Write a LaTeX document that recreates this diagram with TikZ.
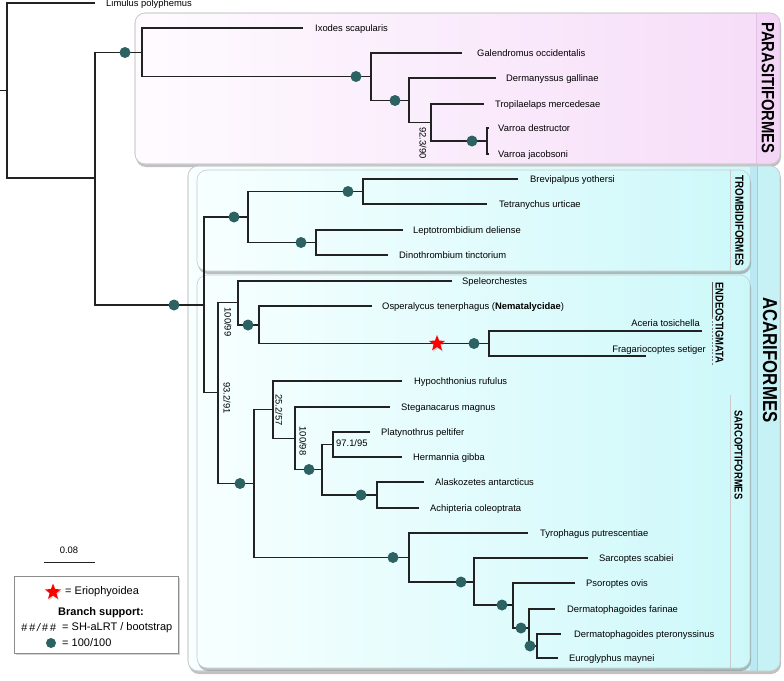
\documentclass[tikz,border=0pt]{standalone}
\usepackage{fontspec}
\setmainfont{Liberation Sans}
\usepackage{graphicx}
\usetikzlibrary{shapes.geometric,shadows}
\definecolor{dotc}{HTML}{2D6262}
\definecolor{brc}{HTML}{222222}
\definecolor{pinkR}{HTML}{F6DCF8}
\definecolor{pinkL}{HTML}{FEFBFF}
\definecolor{pinkS}{HTML}{F3D5F5}
\definecolor{pinkLn}{HTML}{E4C2E6}
\definecolor{cyanR}{HTML}{CDF8FA}
\definecolor{cyanL}{HTML}{F7FFFF}
\definecolor{cyanS}{HTML}{C6F1F5}
\definecolor{cyanB}{HTML}{BCE8F3}
\definecolor{blueLn}{HTML}{9CCFEA}
\definecolor{boxln}{HTML}{CBCBCB}
\newcommand\taxfont{\fontsize{9.4}{11}\selectfont}
\newcommand\suppfont{\fontsize{9.4}{11}\selectfont}
\newcommand\legfont{\fontsize{11}{13}\selectfont}
\begin{document}
\begin{tikzpicture}[x=1pt,y=-1pt,
  br/.style={draw=brc,line width=1.1pt},
  dot/.style={circle,fill=dotc,inner sep=0pt,minimum size=11pt},
  taxon/.style={anchor=base west,inner sep=0pt,font=\taxfont,yshift=-3.3pt},
  taxonr/.style={anchor=base east,inner sep=0pt,font=\taxfont,yshift=-3.3pt},
  supp/.style={rotate=-90,inner sep=0pt,font=\suppfont},
  grp/.style={rotate=-90,inner sep=0pt},
  bigbox/.style={rounded corners=10pt,draw=boxln,line width=0.6pt},
  shad/.style={drop shadow={shadow xshift=1pt,shadow yshift=-3pt,opacity=0.35,fill=black!70}}
]
\useasboundingbox (0,0) rectangle (784,680);

% ---------- Parasitiformes box ----------
\path[bigbox,shad,left color=pinkL,right color=pinkR] (135,13) rectangle (780,164);
\begin{scope}
  \clip[rounded corners=10pt] (135,13) rectangle (780,164);
  \fill[pinkS] (756,13) rectangle (780,164);
  \draw[pinkLn,line width=0.8pt] (756,13) -- (756,164);
\end{scope}
\path[bigbox] (135,13) rectangle (780,164);
\node[grp] (lpara) at (768,88) {\fontsize{14.8}{16}\selectfont\scalebox{1}[1.2]{\bfseries PARASITIFORMES}};

% ---------- Acariformes box ----------
\path[bigbox,shad,left color=cyanL,right color=cyanR] (188,166) rectangle (780,671);
\begin{scope}
  \clip[rounded corners=10pt] (188,166) rectangle (780,671);
  \fill[cyanB] (750,166) rectangle (757,671);
  \fill[cyanS] (757,166) rectangle (780,671);
  \draw[blueLn,line width=0.9pt] (757,166) -- (757,671);
\end{scope}
\path[bigbox] (188,166) rectangle (780,671);
\node[grp] (lacari) at (770,360) {\fontsize{16.8}{18}\selectfont\scalebox{1}[1.2]{\bfseries ACARIFORMES}};

% Trombidiformes inner box
\path[bigbox,shad,left color=cyanL,right color=cyanR] (197,170) rectangle (750,271);
\draw[boxln,line width=0.6pt] (730,170) -- (730,271);
\node[grp] (ltrom) at (739.5,221) {\fontsize{9.8}{11}\selectfont\scalebox{1}[1.2]{\bfseries TROMBIDIFORMES}};

% Sarcoptiformes / Endeostigmata inner box
\path[bigbox,shad,left color=cyanL,right color=cyanR] (197,275) rectangle (750,668);
\draw[boxln,line width=0.6pt] (730,395) -- (730,668);
\node[grp] (lsarc) at (738.5,455) {\fontsize{9.4}{11}\selectfont\scalebox{1}[1.2]{\bfseries SARCOPTIFORMES}};
\coordinate (eA) at (712,282);
\coordinate (eB) at (712,317);
\coordinate (eC) at (712,365);
\draw[black!65,line width=1pt] (eA) -- (eB);
\draw[black!50,line width=1pt,dashed,dash pattern=on 2pt off 1.5pt] (eB) -- (eC);
\node[grp] (lendeo) at (719.5,323) {\fontsize{9.4}{11}\selectfont\scalebox{1}[1.2]{\bfseries ENDEOSTIGMATA}};

% ---------- tree coordinates ----------
\coordinate (rs) at (0,90.5);
\coordinate (r) at (7,90.5);
\coordinate (lim) at (95,3);
\coordinate (n1) at (95,178);
\coordinate (para) at (142,52.5);
\coordinate (ixo) at (303,28);
\coordinate (p2) at (371,76.5);
\coordinate (gal) at (462,53);
\coordinate (p3) at (409,100.5);
\coordinate (der) at (496,78);
\coordinate (p4) at (431,122.5);
\coordinate (tro) at (484,104);
\coordinate (p5) at (487,141);
\coordinate (vd) at (489,128);
\coordinate (vj) at (489,154);
\coordinate (acari) at (204,305);
\coordinate (trom) at (248,217);
\coordinate (t1) at (363,191.5);
\coordinate (bre) at (518,179);
\coordinate (tet) at (487,204);
\coordinate (t2) at (316,242.5);
\coordinate (lep) at (403,230);
\coordinate (din) at (388,255);
\coordinate (sa) at (218,392.5);
\coordinate (endeo) at (238,302.5);
\coordinate (spe) at (452,281);
\coordinate (e2) at (259,325);
\coordinate (osp) at (372,306);
\coordinate (eri) at (489,343.5);
\coordinate (ace) at (702,331);
\coordinate (fra) at (646,356);
\coordinate (sarco) at (254,483.5);
\coordinate (s1) at (273,409.5);
\coordinate (hyp) at (402,381);
\coordinate (s2) at (295,438.5);
\coordinate (ste) at (390,407);
\coordinate (s3) at (322,469.5);
\coordinate (s4) at (333,444.5);
\coordinate (pla) at (370,432);
\coordinate (her) at (402,457);
\coordinate (s5) at (377,495);
\coordinate (ala) at (424,482);
\coordinate (ach) at (419,508);
\coordinate (astig) at (409,557.5);
\coordinate (tyr) at (528,533);
\coordinate (a2) at (474,582);
\coordinate (sar) at (588,558);
\coordinate (a3) at (513,605);
\coordinate (pso) at (575,583);
\coordinate (a4) at (529,628);
\coordinate (dfa) at (555,609);
\coordinate (a5) at (537,646);
\coordinate (dpt) at (561,634);
\coordinate (eur) at (558,658);

% ---------- branches ----------
\draw[br] (rs) -- (r);
\draw[br] (r) |- (lim);
\draw[br] (r) |- (n1);
\draw[br] (n1) |- (para);
\draw[br] (n1) |- (acari);
\draw[br] (para) |- (ixo);
\draw[br] (para) |- (p2);
\draw[br] (p2) |- (gal);
\draw[br] (p2) |- (p3);
\draw[br] (p3) |- (der);
\draw[br] (p3) |- (p4);
\draw[br] (p4) |- (tro);
\draw[br] (p4) |- (p5);
\draw[br] (p5) |- (vd);
\draw[br] (p5) |- (vj);
\draw[br] (acari) |- (trom);
\draw[br] (acari) |- (sa);
\draw[br] (trom) |- (t1);
\draw[br] (trom) |- (t2);
\draw[br] (t1) |- (bre);
\draw[br] (t1) |- (tet);
\draw[br] (t2) |- (lep);
\draw[br] (t2) |- (din);
\draw[br] (sa) |- (endeo);
\draw[br] (sa) |- (sarco);
\draw[br] (endeo) |- (spe);
\draw[br] (endeo) |- (e2);
\draw[br] (e2) |- (osp);
\draw[br] (e2) |- (eri);
\draw[br] (eri) |- (ace);
\draw[br] (eri) |- (fra);
\draw[br] (sarco) |- (s1);
\draw[br] (sarco) |- (astig);
\draw[br] (s1) |- (hyp);
\draw[br] (s1) |- (s2);
\draw[br] (s2) |- (ste);
\draw[br] (s2) |- (s3);
\draw[br] (s3) |- (s4);
\draw[br] (s3) |- (s5);
\draw[br] (s4) |- (pla);
\draw[br] (s4) |- (her);
\draw[br] (s5) |- (ala);
\draw[br] (s5) |- (ach);
\draw[br] (astig) |- (tyr);
\draw[br] (astig) |- (a2);
\draw[br] (a2) |- (sar);
\draw[br] (a2) |- (a3);
\draw[br] (a3) |- (pso);
\draw[br] (a3) |- (a4);
\draw[br] (a4) |- (dfa);
\draw[br] (a4) |- (a5);
\draw[br] (a5) |- (dpt);
\draw[br] (a5) |- (eur);

% ---------- support dots ----------
\node[dot] (d1) at (125,52.5) {};
\node[dot] (d2) at (356,76.5) {};
\node[dot] (d3) at (395,100.5) {};
\node[dot] (d4) at (472,141) {};
\node[dot] (d5) at (174,305) {};
\node[dot] (d6) at (234,217) {};
\node[dot] (d7) at (348,191.5) {};
\node[dot] (d8) at (301,242.5) {};
\node[dot] (d9) at (248,325) {};
\node[dot] (d10) at (474,343.5) {};
\node[dot] (d11) at (240,483.5) {};
\node[dot] (d12) at (309,469.5) {};
\node[dot] (d13) at (361,495) {};
\node[dot] (d14) at (393,557.5) {};
\node[dot] (d15) at (461,582) {};
\node[dot] (d16) at (502,605) {};
\node[dot] (d17) at (521,628) {};
\node[dot] (d18) at (530,646) {};
\node[star,star points=5,star point ratio=2.4,fill=red,inner sep=0pt,minimum size=17pt,
      drop shadow={shadow xshift=1pt,shadow yshift=-1.5pt,opacity=0.3}] (star1) at (437,343.5) {};

% ---------- support values ----------
\node[supp] (v1) at (423,143) {92.3/90};
\node[supp] (v2) at (228,322) {100/99};
\node[supp] (v3) at (227,398) {93.2/91};
\node[supp] (v4) at (279,410) {25.2/57};
\node[supp] (v5) at (303,441) {100/98};
\node[anchor=west,inner sep=0pt,font=\suppfont] (v6) at (336,443) {97.1/95};

% ---------- taxon labels ----------
\node[taxon] (tlim) at (106,3) {Limulus polyphemus};
\node[taxon] (tixo) at (315,28) {Ixodes scapularis};
\node[taxon] (tgal) at (477,53) {Galendromus occidentalis};
\node[taxon] (tder) at (506,78) {Dermanyssus gallinae};
\node[taxon] (ttro) at (495,104) {Tropilaelaps mercedesae};
\node[taxon] (tvd) at (498,128) {Varroa destructor};
\node[taxon] (tvj) at (498,154) {Varroa jacobsoni};
\node[taxon] (tbre) at (530,179) {Brevipalpus yothersi};
\node[taxon] (ttet) at (499,204) {Tetranychus urticae};
\node[taxon] (tlep) at (413,230) {Leptotrombidium deliense};
\node[taxon] (tdin) at (399,255) {Dinothrombium tinctorium};
\node[taxon] (tspe) at (462,281) {Speleorchestes};
\node[taxon] (tosp) at (382,306) {Osperalycus tenerphagus (\textbf{Nematalycidae})};
\node[taxonr] (tace) at (700,323) {Aceria tosichella};
\node[taxonr] (tfra) at (706,349) {Fragariocoptes setiger};
\node[taxon] (thyp) at (414,381) {Hypochthonius rufulus};
\node[taxon] (tste) at (401,407) {Steganacarus magnus};
\node[taxon] (tpla) at (381,432) {Platynothrus peltifer};
\node[taxon] (ther) at (413,457) {Hermannia gibba};
\node[taxon] (tala) at (435,482) {Alaskozetes antarcticus};
\node[taxon] (tach) at (430,508) {Achipteria coleoptrata};
\node[taxon] (ttyr) at (540,533) {Tyrophagus putrescentiae};
\node[taxon] (tsar) at (599,558) {Sarcoptes scabiei};
\node[taxon] (tpso) at (586,583) {Psoroptes ovis};
\node[taxon] (tdfa) at (567,609) {Dermatophagoides farinae};
\node[taxon] (tdpt) at (574,634) {Dermatophagoides pteronyssinus};
\node[taxon] (teur) at (569,658) {Euroglyphus maynei};

% ---------- scale bar ----------
\coordinate (sbA) at (44,562);
\coordinate (sbB) at (95,562);
\draw[brc,line width=1pt] (sbA) -- (sbB);
\node[inner sep=0pt,font=\taxfont] (sbt) at (69,550) {0.08};

% ---------- legend ----------
\path[draw=black!45,line width=0.6pt,fill=white,drop shadow={shadow xshift=1.5pt,shadow yshift=-2pt,opacity=0.35}] (14,576) rectangle (178,653);
\node[star,star points=5,star point ratio=2.4,fill=red,inner sep=0pt,minimum size=17pt,
      drop shadow={shadow xshift=1pt,shadow yshift=-1.5pt,opacity=0.3}] (lstar) at (53,592) {};
\node[anchor=west,inner sep=0pt,font=\legfont] (lt1) at (65,592) {= Eriophyoidea};
\node[inner sep=0pt,font=\legfont\bfseries] (lt2) at (101,613) {Branch support:};
\node[anchor=west,inner sep=0pt,font=\legfont] (lt3) at (21,628) {\textit{\#\,\#\,/\,\#\,\#}};
\node[anchor=west,inner sep=0pt,font=\legfont] (lt4) at (62,628) {= SH-aLRT / bootstrap};
\node[dot,minimum size=10pt] (ldot) at (51,643) {};
\node[anchor=west,inner sep=0pt,font=\legfont] (lt5) at (62,643) {= 100/100};
\end{tikzpicture}
\end{document}
